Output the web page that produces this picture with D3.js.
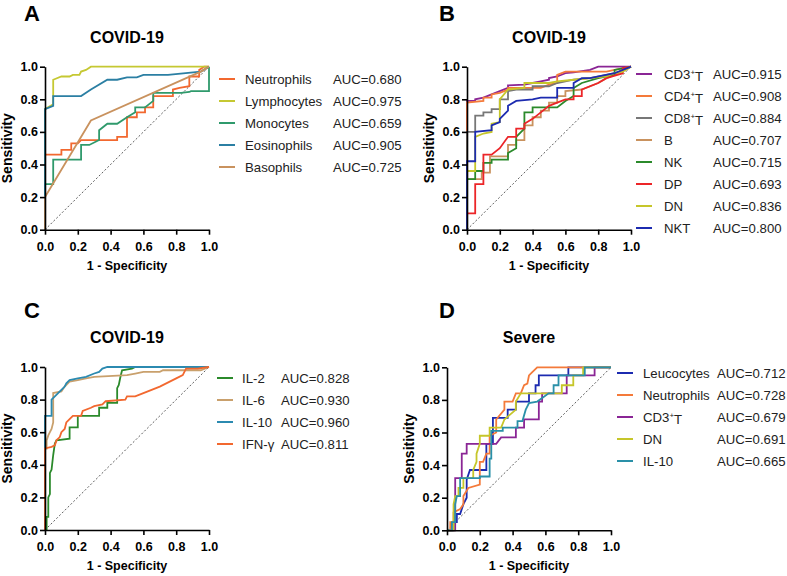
<!DOCTYPE html>
<html>
<head>
<meta charset="utf-8">
<script src="https://cdn.jsdelivr.net/npm/d3@7"></script>
<style>
  body { margin: 0; background: #fff; }
  text { font-family: "Liberation Sans", Arial, sans-serif; }
</style>
</head>
<body>
<div id="chart"></div>
<script>
// ROC curves, points are [1 - specificity, sensitivity]
const ticks = [0, 0.2, 0.4, 0.6, 0.8, 1.0]

// A - COVID-19, blood cells
const namesA = ["Neutrophils", "Lymphocytes", "Monocytes", "Eosinophils", "Basophils"]
const aucA = ["0.680", "0.975", "0.659", "0.905", "0.725"]
const neutrophilsA = [[0,0],[0,0.46],[0.1,0.46],[0.1,0.49],[0.16,0.49],[0.16,0.53],[0.2,0.53],[0.22,0.55],[0.44,0.55],[0.44,0.57],[0.5,0.57],[0.5,0.69],[0.56,0.69],[0.56,0.72],[0.61,0.72],[0.61,0.75],[0.66,0.75],[0.66,0.82],[0.78,0.82],[0.78,0.86],[0.82,0.87],[0.88,0.88],[0.88,0.94],[0.94,0.94],[0.94,0.98],[0.97,1],[1,1]]
const lymphocytesA = [[0,0],[0,0.47],[0,0.74],[0.05,0.77],[0.05,0.92],[0.1,0.94],[0.15,0.94],[0.17,0.95],[0.21,0.95],[0.22,0.97],[0.25,0.98],[0.28,1],[1,1]]
const monocytesA = [[0,0],[0,0.28],[0.05,0.28],[0.05,0.43],[0.22,0.43],[0.22,0.52],[0.27,0.52],[0.33,0.55],[0.33,0.61],[0.38,0.65],[0.44,0.65],[0.5,0.69],[0.55,0.72],[0.55,0.75],[0.61,0.75],[0.66,0.79],[0.66,0.84],[0.83,0.84],[0.88,0.845],[0.89,0.85],[1,0.85],[1,1]]
const eosinophilsA = [[0,0],[0,0.74],[0.05,0.76],[0.05,0.82],[0.22,0.82],[0.28,0.86],[0.38,0.92],[0.44,0.92],[0.5,0.935],[0.56,0.935],[0.6,0.95],[0.75,0.95],[0.95,0.97],[1,1]]
const basophilsA = [[0,0],[0,0.2],[0.28,0.67],[0.95,0.97],[1,1]]
const curvesA = [neutrophilsA, lymphocytesA, monocytesA, eosinophilsA, basophilsA]
const colorsA = ["#f2682f", "#c5c832", "#2f9a6c", "#2b7fa3", "#c9925e"]

// B - COVID-19, lymphocyte subsets
const namesB = ["CD3|T", "CD4|T", "CD8|T", "B", "NK", "DP", "DN", "NKT"]
const aucB = ["0.915", "0.908", "0.884", "0.707", "0.715", "0.693", "0.836", "0.800"]
const cd3B = [[0,0],[0,0.79],[0.05,0.79],[0.05,0.8],[0.1,0.81],[0.15,0.83],[0.2,0.85],[0.25,0.87],[0.25,0.885],[0.35,0.89],[0.4,0.9],[0.45,0.91],[0.5,0.92],[0.5,0.93],[0.55,0.94],[0.6,0.96],[0.65,0.965],[0.75,0.98],[0.8,1],[1,1]]
const cd4B = [[0,0],[0,0.78],[0.1,0.79],[0.1,0.81],[0.15,0.81],[0.15,0.83],[0.2,0.84],[0.25,0.86],[0.25,0.87],[0.45,0.87],[0.5,0.89],[0.55,0.9],[0.55,0.95],[0.6,0.97],[0.85,0.97],[0.9,0.98],[1,1]]
const cd8B = [[0,0],[0,0.6],[0.05,0.6],[0.05,0.7],[0.1,0.7],[0.1,0.72],[0.15,0.72],[0.15,0.74],[0.2,0.74],[0.2,0.8],[0.25,0.8],[0.25,0.85],[0.3,0.86],[0.4,0.86],[0.4,0.88],[0.5,0.88],[0.55,0.9],[0.65,0.92],[0.75,0.93],[0.85,0.95],[0.9,0.96],[1,1]]
const bB = [[0,0],[0,0.31],[0.09,0.31],[0.09,0.35],[0.14,0.35],[0.14,0.45],[0.25,0.45],[0.25,0.52],[0.3,0.52],[0.3,0.55],[0.35,0.55],[0.35,0.64],[0.4,0.64],[0.4,0.69],[0.45,0.69],[0.45,0.73],[0.5,0.73],[0.5,0.78],[0.55,0.78],[0.55,0.82],[0.6,0.82],[0.6,0.85],[0.7,0.86],[0.8,0.9],[0.85,0.93],[0.9,0.95],[1,1]]
const nkB = [[0,0],[0,0.31],[0.05,0.31],[0.05,0.36],[0.1,0.36],[0.1,0.41],[0.15,0.41],[0.15,0.43],[0.25,0.43],[0.25,0.47],[0.3,0.5],[0.3,0.57],[0.35,0.62],[0.35,0.72],[0.4,0.72],[0.4,0.75],[0.55,0.75],[0.6,0.79],[0.65,0.82],[0.65,0.87],[0.7,0.9],[0.8,0.93],[0.9,0.95],[0.9,0.98],[1,1]]
const dpB = [[0,0],[0,0.1],[0.05,0.1],[0.05,0.28],[0.1,0.28],[0.1,0.46],[0.15,0.46],[0.2,0.5],[0.25,0.57],[0.3,0.57],[0.3,0.62],[0.35,0.62],[0.35,0.65],[0.4,0.68],[0.45,0.72],[0.5,0.76],[0.55,0.78],[0.6,0.8],[0.65,0.8],[0.65,0.82],[0.7,0.82],[0.7,0.86],[0.75,0.88],[0.8,0.9],[0.85,0.93],[0.95,0.96],[0.95,0.99],[1,1]]
const dnB = [[0,0],[0,0.36],[0.05,0.36],[0.05,0.57],[0.1,0.59],[0.15,0.6],[0.15,0.65],[0.2,0.66],[0.2,0.8],[0.25,0.86],[0.35,0.87],[0.35,0.9],[0.5,0.9],[0.55,0.91],[0.65,0.92],[0.75,0.93],[0.85,0.94],[0.9,0.96],[0.95,0.97],[1,1]]
const nktB = [[0,0],[0,0.42],[0.05,0.42],[0.05,0.6],[0.15,0.61],[0.15,0.64],[0.2,0.66],[0.2,0.68],[0.25,0.73],[0.25,0.76],[0.3,0.79],[0.4,0.8],[0.45,0.81],[0.55,0.81],[0.55,0.87],[0.65,0.87],[0.65,0.9],[0.7,0.93],[0.75,0.93],[0.9,0.96],[1,1]]
const curvesB = [cd3B, cd4B, cd8B, bB, nkB, dpB, dnB, nktB]
const colorsB = ["#8a2595", "#f47a3a", "#777777", "#c9925e", "#2b8a2b", "#ec2528", "#c6c62a", "#1c2bb0"]

// C - COVID-19, cytokines
const namesC = ["IL-2", "IL-6", "IL-10", "IFN-γ"]
const aucC = ["0.828", "0.930", "0.960", "0.811"]
const il2C = [[0,0],[0.01,0],[0.01,0.08],[0.02,0.08],[0.02,0.2],[0.03,0.22],[0.03,0.35],[0.04,0.37],[0.05,0.46],[0.06,0.53],[0.07,0.55],[0.15,0.56],[0.15,0.63],[0.2,0.63],[0.2,0.7],[0.33,0.7],[0.33,0.75],[0.38,0.75],[0.38,0.78],[0.44,0.78],[0.44,0.87],[0.45,0.89],[0.46,0.94],[0.47,0.98],[0.53,0.99],[0.55,1],[1,1]]
const il6C = [[0,0],[0,0.5],[0.01,0.5],[0.01,0.55],[0.02,0.58],[0.03,0.6],[0.04,0.62],[0.05,0.66],[0.05,0.84],[0.1,0.85],[0.12,0.88],[0.15,0.91],[0.2,0.92],[0.25,0.93],[0.3,0.94],[0.5,0.95],[0.55,0.96],[0.6,0.97],[0.7,0.97],[0.72,0.98],[0.95,0.98],[1,1]]
const il10C = [[0,0],[0,0.7],[0.04,0.7],[0.04,0.8],[0.06,0.82],[0.08,0.84],[0.1,0.86],[0.12,0.88],[0.13,0.9],[0.15,0.92],[0.2,0.93],[0.25,0.94],[0.3,0.96],[0.33,0.97],[0.35,0.99],[0.38,1],[1,1]]
const ifnC = [[0,0],[0,0.5],[0.04,0.51],[0.06,0.52],[0.07,0.55],[0.09,0.57],[0.1,0.6],[0.12,0.62],[0.13,0.66],[0.15,0.68],[0.17,0.7],[0.22,0.7],[0.23,0.73],[0.28,0.75],[0.3,0.76],[0.35,0.77],[0.37,0.79],[0.49,0.8],[0.5,0.82],[0.55,0.82],[0.6,0.84],[0.7,0.88],[0.8,0.93],[0.84,0.95],[0.86,0.99],[0.93,0.99],[1,1]]
const curvesC = [il2C, il6C, il10C, ifnC]
const colorsC = ["#2b8a2b", "#c9a06c", "#2b8ab0", "#f2682f"]

// D - Severe
const namesD = ["Leucocytes", "Neutrophils", "CD3|T", "DN", "IL-10"]
const aucD = ["0.712", "0.728", "0.679", "0.691", "0.665"]
const leucocytesD = [[0,0],[0.04,0],[0.04,0.05],[0.06,0.05],[0.06,0.1],[0.08,0.1],[0.1,0.16],[0.12,0.2],[0.12,0.31],[0.14,0.37],[0.24,0.37],[0.24,0.53],[0.28,0.53],[0.28,0.69],[0.37,0.69],[0.37,0.74],[0.42,0.74],[0.42,0.79],[0.5,0.79],[0.5,0.84],[0.54,0.84],[0.54,0.89],[0.56,0.89],[0.56,0.95],[0.74,0.95],[0.74,1],[1,1]]
const neutrophilsD = [[0,0],[0.02,0],[0.02,0.05],[0.04,0.05],[0.04,0.11],[0.08,0.13],[0.1,0.16],[0.1,0.21],[0.13,0.26],[0.2,0.28],[0.2,0.42],[0.22,0.42],[0.24,0.47],[0.26,0.47],[0.26,0.58],[0.3,0.6],[0.3,0.68],[0.35,0.74],[0.35,0.79],[0.4,0.79],[0.42,0.84],[0.45,0.84],[0.47,0.89],[0.49,0.9],[0.5,0.95],[0.52,0.97],[0.55,1],[1,1]]
const cd3D = [[0,0],[0.05,0],[0.05,0.32],[0.09,0.32],[0.09,0.47],[0.12,0.47],[0.12,0.53],[0.3,0.53],[0.33,0.57],[0.42,0.57],[0.42,0.63],[0.47,0.63],[0.47,0.68],[0.56,0.68],[0.56,0.79],[0.58,0.79],[0.58,0.84],[0.73,0.84],[0.73,0.95],[0.9,0.95],[0.9,1],[1,1]]
const dnD = [[0,0],[0.04,0],[0.04,0.16],[0.05,0.21],[0.07,0.21],[0.07,0.26],[0.1,0.26],[0.1,0.32],[0.16,0.32],[0.16,0.37],[0.18,0.42],[0.18,0.47],[0.2,0.53],[0.2,0.58],[0.26,0.58],[0.26,0.63],[0.33,0.63],[0.35,0.68],[0.42,0.74],[0.42,0.79],[0.45,0.84],[0.7,0.84],[0.7,0.89],[0.77,0.89],[0.77,0.95],[0.83,0.95],[0.83,1],[1,1]]
const il10D = [[0,0],[0.03,0],[0.03,0.05],[0.05,0.05],[0.05,0.16],[0.06,0.21],[0.08,0.21],[0.08,0.32],[0.2,0.32],[0.2,0.33],[0.26,0.33],[0.26,0.44],[0.27,0.44],[0.27,0.61],[0.34,0.61],[0.34,0.63],[0.43,0.63],[0.43,0.67],[0.46,0.67],[0.48,0.74],[0.5,0.78],[0.55,0.79],[0.62,0.84],[0.65,0.84],[0.65,0.89],[0.68,0.89],[0.68,0.95],[0.84,0.95],[0.84,1],[1,1]]
const curvesD = [leucocytesD, neutrophilsD, cd3D, dnD, il10D]
const colorsD = ["#1c2bb0", "#f47a3a", "#8a2595", "#c6c62a", "#2a90a8"]

// layout of the four panels
const panels = [
    { letter: "A", title: "COVID-19", names: namesA, auc: aucA, curves: curvesA, colors: colorsA,
      left: 45, top: 66.7, letterX: 24, letterY: 21, legX: 219, textX: 245, aucX: 333, legY: 79 },
    { letter: "B", title: "COVID-19", names: namesB, auc: aucB, curves: curvesB, colors: colorsB,
      left: 467, top: 66.7, letterX: 439, letterY: 21, legX: 636, textX: 664, aucX: 713, legY: 74 },
    { letter: "C", title: "COVID-19", names: namesC, auc: aucC, curves: curvesC, colors: colorsC,
      left: 45, top: 367, letterX: 24, letterY: 318, legX: 217, textX: 242, aucX: 281, legY: 378 },
    { letter: "D", title: "Severe", names: namesD, auc: aucD, curves: curvesD, colors: colorsD,
      left: 447, top: 367.3, letterX: 439, letterY: 318, legX: 617, textX: 643, aucX: 717, legY: 373 }
]

let width = 164, height = 163

let svg = d3.select("#chart")
    .append("svg")
    .attr("width", 787)
    .attr("height", 576)

panels.forEach(p => {
    let x = d3.scaleLinear().domain([0, 1]).range([0, width])
    let y = d3.scaleLinear().domain([0, 1]).range([height, 0])

    // panel letter
    svg.append("text")
        .attr("x", p.letterX)
        .attr("y", p.letterY)
        .attr("font-size", 22)
        .attr("font-weight", "bold")
        .text(p.letter)

    let g = svg.append("g")
        .attr("transform", `translate(${p.left},${p.top})`)

    g.append("text")
        .attr("x", width / 2)
        .attr("y", -24)
        .attr("text-anchor", "middle")
        .attr("font-size", 16)
        .attr("font-weight", "bold")
        .text(p.title)

    // reference diagonal
    g.append("line")
        .attr("x1", x(0)).attr("y1", y(0))
        .attr("x2", x(1)).attr("y2", y(1))
        .attr("stroke", "#333")
        .attr("stroke-width", 0.8)
        .attr("stroke-dasharray", "2,2")

    let line = d3.line()
        .x(d => x(d[0]))
        .y(d => y(d[1]))

    g.append("g")
        .selectAll("path")
        .data(p.curves)
        .join("path")
        .attr("d", line)
        .attr("fill", "none")
        .attr("stroke", (d, i) => p.colors[i])
        .attr("stroke-width", 1.8)

    // axes
    let fmt = d3.format(".1f")
    let xAxis = g.append("g")
        .attr("transform", `translate(0,${height})`)
        .call(d3.axisBottom(x).tickValues(ticks).tickFormat(fmt).tickSize(5).tickPadding(7).tickSizeOuter(0))
    let yAxis = g.append("g")
        .call(d3.axisLeft(y).tickValues(ticks).tickFormat(fmt).tickSize(5).tickPadding(2).tickSizeOuter(0))

    ;[xAxis, yAxis].forEach(a => {
        a.select(".domain").attr("stroke", "#000").attr("stroke-width", 1.6)
        a.selectAll(".tick line").attr("stroke", "#000").attr("stroke-width", 1.6)
        a.selectAll("text")
            .attr("font-size", 12.5)
            .attr("font-weight", "bold")
            .attr("fill", "#000")
            .attr("font-family", "'Liberation Sans', Arial, sans-serif")
    })

    g.append("text")
        .attr("x", width / 2)
        .attr("y", height + 40)
        .attr("text-anchor", "middle")
        .attr("font-size", 12.5)
        .attr("font-weight", "bold")
        .text("1 - Specificity")

    g.append("text")
        .attr("transform", `translate(-33,${height / 2}) rotate(-90)`)
        .attr("text-anchor", "middle")
        .attr("font-size", 14)
        .attr("font-weight", "bold")
        .text("Sensitivity")

    // legend
    let leg = svg.append("g")
    p.names.forEach((name, i) => {
        let ly = p.legY + i * 22
        leg.append("line")
            .attr("x1", p.legX).attr("x2", p.legX + 16)
            .attr("y1", ly).attr("y2", ly)
            .attr("stroke", p.colors[i])
            .attr("stroke-width", 2)

        let t = leg.append("text")
            .attr("x", p.textX)
            .attr("y", ly)
            .attr("dy", "0.35em")
            .attr("font-size", 13.2)
            .attr("fill", "#222")
        // "CD3|T" -> CD3 with superscript +
        if (name.includes("|")) {
            let parts = name.split("|")
            t.append("tspan").text(parts[0])
            t.append("tspan").attr("dy", "-0.45em").attr("font-size", 8).text("+")
            t.append("tspan").attr("dy", "0.45em").text(parts[1])
        } else {
            t.text(name)
        }

        leg.append("text")
            .attr("x", p.aucX)
            .attr("y", ly)
            .attr("dy", "0.35em")
            .attr("font-size", 13.2)
            .attr("fill", "#222")
            .text("AUC=" + p.auc[i])
    })
})
</script>
</body>
</html>
